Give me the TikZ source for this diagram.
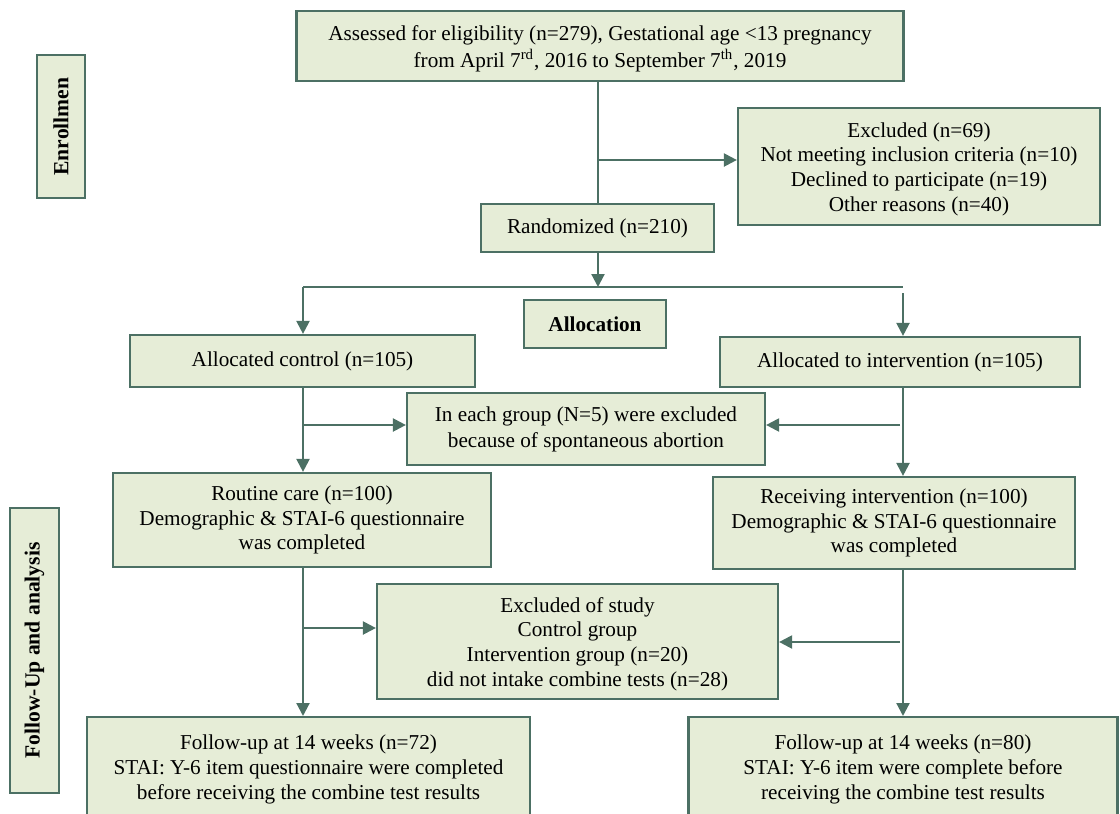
\documentclass[tikz,border=0pt]{standalone}
\usepackage{fontspec}
\setmainfont{Liberation Serif}
\usetikzlibrary{arrows.meta}
\definecolor{bx}{RGB}{230,237,215}
\definecolor{ln}{RGB}{76,112,100}
\begin{document}
\begin{tikzpicture}[x=0.5pt,y=-0.5pt,
  box/.style={draw=ln,fill=bx,line width=1.1pt,inner sep=0pt,align=center,
    font=\fontsize{10.6}{12.2}\selectfont},
  side/.style={box,rotate=90,font=\fontsize{10.8}{11}\selectfont\bfseries},
  con/.style={draw=ln,line width=1.1pt},
  arr/.style={con,-{Triangle[length=6.5pt,width=6.5pt]}}]
\useasboundingbox (0,0) rectangle (1120,814);
\clip (0,0) rectangle (1120,814);
% nodes
\node[box,minimum width=303.5pt,minimum height=35pt,font=\fontsize{10.6}{13.5}\selectfont] (assess) at (600,46)
  {\rule{0pt}{10pt}Assessed for eligibility (n=279), Gestational age <13 pregnancy\\
   from April 7\textsuperscript{rd}, 2016 to September 7\textsuperscript{th}, 2019};
\node[side,minimum width=71.5pt,minimum height=24pt] (enrol) at (61,126.5) {Enrollmen};
\node[box,minimum width=181pt,minimum height=58.5pt,font=\fontsize{10.6}{12.3}\selectfont] (excl) at (919,166.5)
  {\rule{0pt}{10pt}Excluded (n=69)\\Not meeting inclusion criteria (n=10)\\Declined to participate (n=19)\\Other reasons (n=40)};
\node[box,minimum width=116.5pt,minimum height=24pt] (rand) at (597.5,228) {Randomized (n=210)};
\node[box,minimum width=71pt,minimum height=24pt,font=\fontsize{10.6}{11}\selectfont\bfseries] (alloc) at (595,324) {Allocation};
\node[box,minimum width=172.5pt,minimum height=26pt] (ctrl) at (302.5,361) {Allocated control (n=105)};
\node[box,minimum width=180pt,minimum height=25pt] (intv) at (900,362) {Allocated to intervention (n=105)};
\node[box,minimum width=179pt,minimum height=36pt,font=\fontsize{10.6}{13}\selectfont] (abort) at (586,429)
  {In each group (N=5) were excluded\\because of spontaneous abortion};
\node[box,minimum width=189pt,minimum height=47pt] (rout) at (302,520)
  {Routine care (n=100)\\Demographic \& STAI-6 questionnaire\\was completed};
\node[box,minimum width=181pt,minimum height=46pt] (recv) at (894,523)
  {Receiving intervention (n=100)\\Demographic \& STAI-6 questionnaire\\was completed};
\node[side,minimum width=142.5pt,minimum height=24.5pt] (fol) at (34.5,650.5) {Follow-Up and analysis};
\node[box,minimum width=200.5pt,minimum height=57.5pt,font=\fontsize{10.6}{12.3}\selectfont] (study) at (577.5,641.5)
  {\rule{0pt}{10pt}Excluded of study\\Control group\\Intervention group (n=20)\\did not intake combine tests (n=28)};
\node[box,anchor=north,minimum width=221.5pt,inner ysep=9pt,font=\fontsize{10.6}{12.5}\selectfont] (fu1) at (308.5,716)
  {Follow-up at 14 weeks (n=72)\\STAI: Y-6 item questionnaire were completed\\before receiving the combine test results\\ \strut\\ \strut};
\node[box,anchor=north,minimum width=214.5pt,inner ysep=9pt,font=\fontsize{10.6}{12.5}\selectfont] (fu2) at (903,716)
  {Follow-up at 14 weeks (n=80)\\STAI: Y-6 item were complete before\\receiving the combine test results\\ \strut\\ \strut};
% coordinates
\coordinate (b1) at (598,160);
\coordinate (hl) at (303,287);
\coordinate (hm) at (598,287);
\coordinate (hr) at (903,287);
\coordinate (rt) at (903,293);
\coordinate (b2) at (303,425);
\coordinate (b3) at (900,425);
\coordinate (b4) at (303,628);
\coordinate (b5) at (900,642);
% connectors
\draw[con] (assess.south -| b1) -- (rand.north -| b1);
\draw[arr] (b1) -- (excl.west |- b1);
\draw[arr] (rand.south -| hm) -- (hm);
\draw[con] (hl) -- (hr);
\draw[arr] (hl) -- (ctrl.north -| hl);
\draw[arr] (rt) -- (intv.north -| rt);
\draw[arr] (ctrl.south -| hl) -- (rout.north -| hl);
\draw[arr] (b2) -- (abort.west |- b2);
\draw[arr] (intv.south -| rt) -- (recv.north -| rt);
\draw[arr] (b3) -- (abort.east |- b3);
\draw[arr] (rout.south -| hl) -- (fu1.north -| hl);
\draw[arr] (b4) -- (study.west |- b4);
\draw[arr] (recv.south -| rt) -- (fu2.north -| rt);
\draw[arr] (b5) -- (study.east |- b5);
\end{tikzpicture}
\end{document}
